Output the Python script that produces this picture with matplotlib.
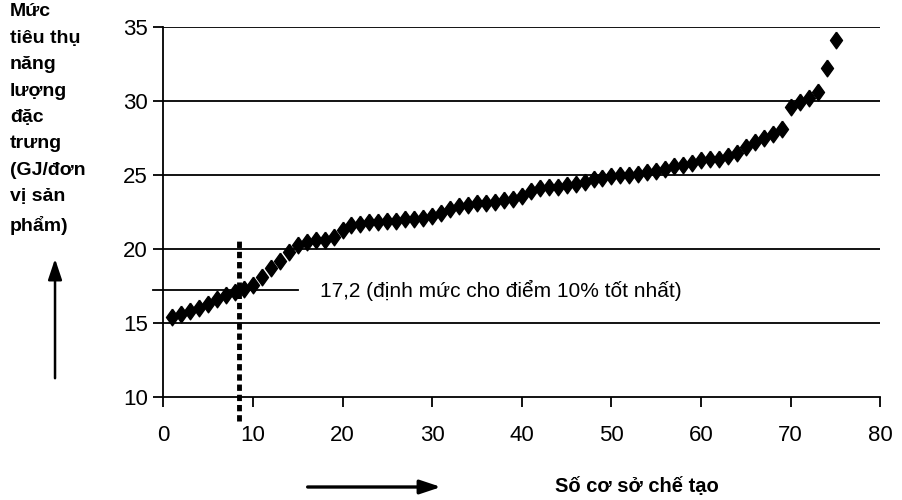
import numpy as np
import matplotlib.pyplot as plt
from matplotlib.patches import FancyArrowPatch

plt.rcParams['font.family'] = ['Liberation Sans', 'DejaVu Sans']

# so co so che tao (1..75) va muc tieu thu nang luong dac trung
facility = list(range(1, 76))
energy = [15.4, 15.6, 15.8, 16.0, 16.3, 16.6, 16.9, 17.1, 17.3, 17.6,
          18.1, 18.7, 19.2, 19.8, 20.3, 20.5, 20.6, 20.6, 20.8, 21.3,
          21.6, 21.7, 21.8, 21.8, 21.9, 21.9, 22.0, 22.0, 22.1, 22.2,
          22.4, 22.7, 22.9, 23.0, 23.1, 23.1, 23.2, 23.3, 23.4, 23.6,
          23.9, 24.1, 24.2, 24.2, 24.3, 24.4, 24.5, 24.7, 24.8, 24.9,
          25.0, 25.0, 25.1, 25.2, 25.3, 25.4, 25.6, 25.7, 25.8, 26.0,
          26.1, 26.1, 26.3, 26.5, 26.9, 27.2, 27.5, 27.8, 28.1, 29.6,
          29.9, 30.2, 30.6, 32.2, 34.1]

benchmark = 17.2
benchmark_x = 8.5
x_ticks = [0, 10, 20, 30, 40, 50, 60, 70, 80]
y_ticks = [10, 15, 20, 25, 30, 35]

fig = plt.figure(figsize=(9.02, 5.0), dpi=100)
ax = fig.add_axes([0.181, 0.206, 0.795, 0.740])

for yv in y_ticks[1:]:
    ax.axhline(yv, color='black', lw=1.3, zorder=1)

# hinh thoi hoi dai theo chieu dung
diamond = [(0, 1), (0.72, 0), (0, -1), (-0.72, 0), (0, 1)]
ax.plot(facility, energy, linestyle='none', marker=diamond, markersize=12,
        color='black', zorder=3)

# dinh muc 10%
ax.plot([-1.2, 15.0], [benchmark, benchmark], color='black', lw=1.3,
        clip_on=False, zorder=2)
ax.plot([benchmark_x, benchmark_x], [8.4, 20.7], color='black', lw=3.5,
        linestyle=(0, (1.3, 0.8)), clip_on=False, zorder=4)
ax.text(17.5, benchmark, '17,2 (định mức cho điểm 10% tốt nhất)',
        fontsize=15, va='center', ha='left')

ax.set_xlim(0, 80)
ax.set_ylim(10, 35)
ax.set_xticks(x_ticks)
ax.set_yticks(y_ticks)
ax.tick_params(axis='both', labelsize=16, direction='out', width=1.3)
ax.tick_params(axis='x', length=7, pad=13)
ax.tick_params(axis='y', length=7, pad=4)
for side in ['top', 'right']:
    ax.spines[side].set_visible(False)
for side in ['left', 'bottom']:
    ax.spines[side].set_linewidth(1.3)

fig.text(0.011, 0.993, 'Mức\ntiêu thụ\nnăng\nlượng\nđặc\ntrưng\n(GJ/đơn\nvị sản\nphẩm)',
         fontsize=14, fontweight='bold', va='top', ha='left', linespacing=1.72)

# mui ten
fig.patches.append(FancyArrowPatch(
    (0.061, 0.238), (0.061, 0.488), transform=fig.transFigure,
    arrowstyle='-|>,head_width=0.3,head_length=0.9', mutation_scale=14,
    color='black', lw=1.8))
fig.patches.append(FancyArrowPatch(
    (0.338, 0.026), (0.492, 0.026), transform=fig.transFigure,
    arrowstyle='-|>,head_width=0.3,head_length=0.9', mutation_scale=14,
    color='black', lw=2.4))
fig.text(0.615, 0.027, 'Số cơ sở chế tạo', fontsize=14.5, fontweight='bold',
         va='center', ha='left')

fig.savefig('out.png', dpi=100)
